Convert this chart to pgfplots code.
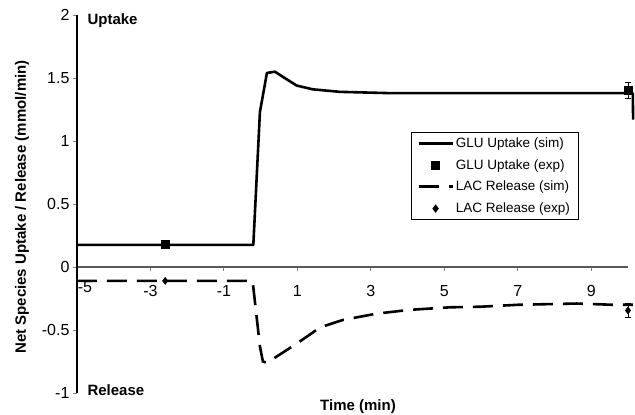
\documentclass[border=0pt]{standalone}
\usepackage{fontspec}
\setmainfont{Liberation Sans}
\usepackage{pgfplots}
\pgfplotsset{compat=1.18}
\pgfplotsset{
  lineleg/.style={legend image code/.code={\draw[##1] (0pt,0pt) -- (34pt,0pt);}},
  markleg/.style={legend image code/.code={\draw[mark repeat=2,mark phase=2,##1] plot coordinates {(0pt,0pt) (17pt,0pt) (34pt,0pt)};}},
}
\begin{document}
\begin{tikzpicture}
\begin{axis}[
  name=ax,
  scale only axis,
  width=551pt, height=378pt,
  xmin=-5, xmax=10, ymin=-1, ymax=2,
  axis x line=middle, axis y line=left,
  axis line style={line width=1.1pt, -},
  x axis line style={black!65},
  y axis line style={black},
  tick align=outside,
  major tick length=4pt,
  tick style={line width=0.9pt},
  xtick={-3,-1,1,3,5,7,9},
  xticklabels={-3,-1,1,3,5,7,9},
  extra x ticks={-5}, extra x tick labels={-5},
  extra x tick style={major tick length=0pt, xticklabel style={xshift=8pt}},
  ytick={-1,-0.5,0,0.5,1,1.5,2},
  yticklabels={-1,-0.5,0,0.5,1,1.5,2},
  tick label style={font=\fontsize{16}{19}\selectfont},
  xticklabel style={yshift=-11pt},
  clip=false,
  legend style={at={(rel axis cs:0.606,0.690)}, anchor=north west, draw=black, line width=0.8pt,
    font=\fontsize{13.5}{16}\selectfont, row sep=6.5pt, inner xsep=6pt, inner ysep=3pt,
    cells={anchor=west}},
  legend cell align=left,
]
\addplot[black, line width=2.6pt, line join=round, lineleg] coordinates {
 (-5,0.175) (-0.2,0.175) (-0.02,1.23) (0.17,1.54) (0.39,1.55) (0.6,1.51) (0.98,1.44)
 (1.42,1.41) (2.16,1.39) (3.5,1.38) (10.0,1.38) (10.13,1.38) (10.14,1.17)
};
\addlegendentry{GLU Uptake (sim)}
\addplot[only marks, mark=square*, mark size=4pt, black, markleg] coordinates {(-2.6,0.18) (10,1.40)};
\addlegendentry{GLU Uptake (exp)}
\addplot[black, line width=2.6pt, dash pattern=on 20pt off 10pt, lineleg] coordinates {
 (-5,-0.11) (-0.22,-0.11) (-0.02,-0.63) (0.06,-0.75) (0.17,-0.76) (0.6,-0.68) (1.07,-0.59)
 (1.42,-0.52) (1.61,-0.48) (2.24,-0.42) (3.16,-0.37) (4.06,-0.34) (5.15,-0.32) (6.0,-0.315)
 (7.0,-0.30) (8.6,-0.29) (9.6,-0.30) (10.0,-0.30) (10.13,-0.30)
};
\addlegendentry{LAC Release (sim)}
\addplot[only marks, mark=diamond*, mark size=3.6pt, black, markleg] coordinates {(-2.6,-0.11) (10,-0.345)};
\addlegendentry{LAC Release (exp)}
\addplot[forget plot, only marks, mark=none, black, error bars/.cd, y dir=both, y explicit,
  error bar style={line width=0.8pt}, error mark options={rotate=90, mark size=3pt, line width=0.8pt}]
  coordinates {(10,1.40) +- (0,0.065) (10,-0.345) +- (0,0.058)};
\node[anchor=west, xshift=7pt, yshift=-6pt, font=\bfseries\fontsize{15}{18}\selectfont] at (rel axis cs:0,1) {Uptake};
\node[anchor=west, xshift=7pt, yshift=3pt, font=\bfseries\fontsize{15}{18}\selectfont] at (rel axis cs:0,0) {Release};
\node[anchor=center, yshift=-14pt, font=\bfseries\fontsize{15}{18}\selectfont] at (rel axis cs:0.51,0) {Time (min)};
\node[anchor=center, xshift=-55pt, rotate=90, font=\bfseries\fontsize{15}{18}\selectfont] at (rel axis cs:0,0.492) {Net Species Uptake / Release (mmol/min)};
\end{axis}
\pgfresetboundingbox
\path[use as bounding box] ([xshift=-77pt,yshift=-22pt]ax.south west) rectangle ([xshift=7pt,yshift=15pt]ax.north east);
\end{tikzpicture}
\end{document}
